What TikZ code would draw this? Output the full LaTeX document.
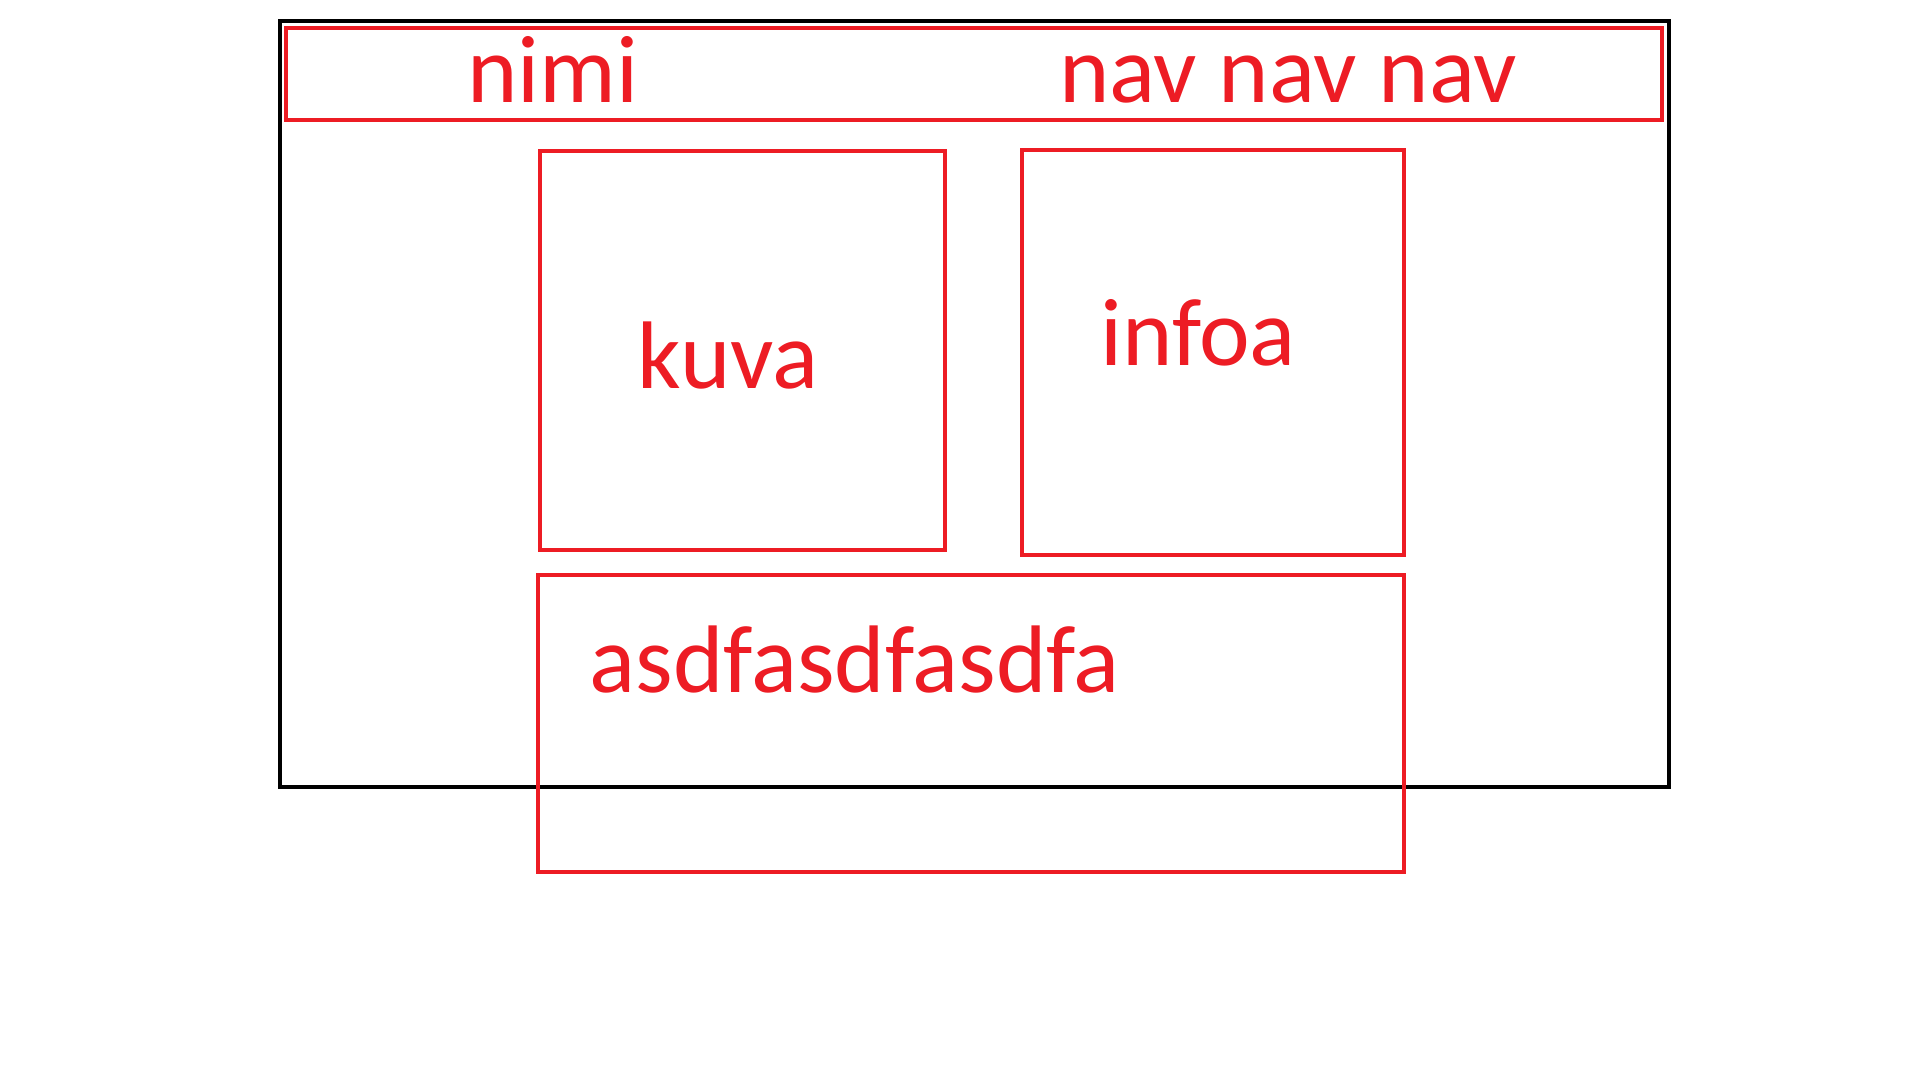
\documentclass[tikz,border=0pt]{standalone}
\usepackage{fontspec}
\setmainfont{Carlito}
\definecolor{paintred}{RGB}{237,28,36}
\tikzset{
	outerbox/.style={line width=2.4pt,draw=black},
	redbox/.style={line width=2pt,draw=paintred},
	label/.style={text=paintred,anchor=base,inner sep=0pt,font=\fontsize{48}{58}\selectfont}
}
\begin{document}
\begin{tikzpicture}[x=0.5pt,y=-0.5pt]
	\useasboundingbox (0,0) rectangle (1919,1080);
	\draw [outerbox] (280,21) -- (1669,21) -- (1669,787) -- (280,787) -- cycle;
	\draw [redbox] (286,28) rectangle (1662,120);
	\draw [redbox] (540,151) rectangle (945,550);
	\draw [redbox] (1022,150) rectangle (1404,555);
	\draw [redbox] (538,575) rectangle (1404,872);
	\node (nimi) at (553,103) [label] {nimi};
	\node (nav) at (1288,103) [label] {nav nav nav};
	\node (kuva) at (728,389) [label] {kuva};
	\node (infoa) at (1198,366) [label] {infoa};
	\node (teksti) at (855,693) [label] {asdfasdfasdfa};
\end{tikzpicture}
\end{document}
